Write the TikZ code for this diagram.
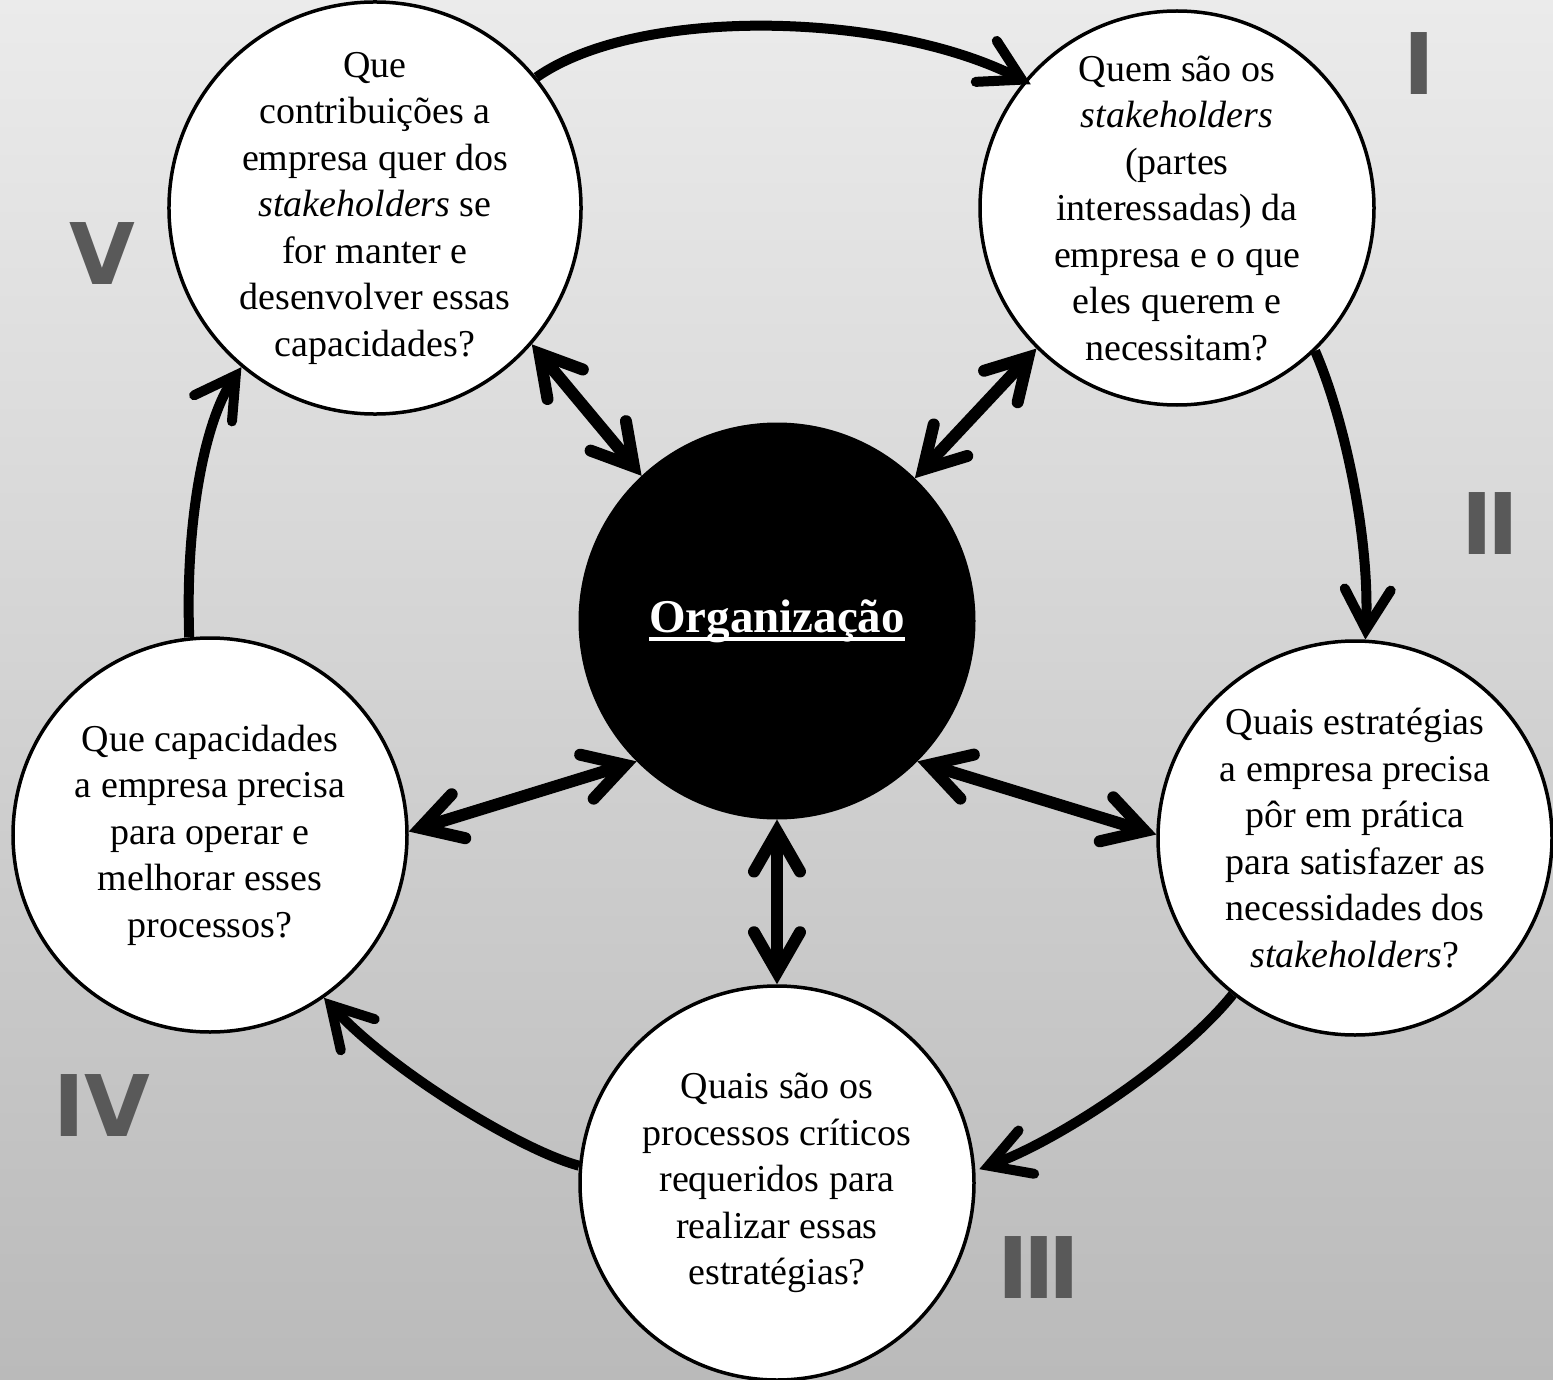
\documentclass[tikz,border=0pt]{standalone}
\usepackage{fontspec}
\setmainfont{Liberation Serif}
\newfontfamily\numfont{DejaVu Sans}
\usetikzlibrary{arrows.meta}
\definecolor{bgtop}{RGB}{235,235,235}
\definecolor{bgbot}{RGB}{186,186,186}
\definecolor{numgray}{RGB}{89,89,89}
\tikzset{
  qcircle/.style={circle, draw=black, line width=3.5pt, fill=white, minimum size=394pt, inner sep=0pt,
    align=center, font=\fontsize{38}{46.5}\selectfont},
  orgcircle/.style={circle, draw=black, line width=3pt, fill=black, minimum size=394pt, inner sep=0pt,
    text=white, font=\fontsize{47}{56}\selectfont\bfseries},
  numeral/.style={inner sep=0pt, text=numgray, font=\fontsize{85}{90}\selectfont\numfont\bfseries},
  barb/.tip={Straight Barb[length=40pt, width=46pt, line cap=round, line join=miter]},
  cyclearrow/.style={line width=10pt, -barb},
  linkarrow/.style={line width=12pt, barb-barb}
}
\newcommand{\orgul}[1]{\setbox0\hbox{#1}\rlap{\rule[-8.5pt]{\wd0}{3.5pt}}\box0}
\begin{document}
\begin{tikzpicture}[x=1pt, y=-1pt]
\shade[top color=bgtop, bottom color=bgbot] (0,0) rectangle (1553,1380);
\useasboundingbox (0,0) rectangle (1553,1380);

\node[qcircle] (V) at (375,208) {Que\\contribuições a\\empresa quer dos\\\textit{stakeholders} se\\for manter e\\desenvolver essas\\capacidades?};
\node[qcircle] (I) at (1177,208) {Quem são os\\\textit{stakeholders}\\(partes\\interessadas) da\\empresa e o que\\eles querem e\\necessitam?};
\node[qcircle] (II) at (1355,838) {Quais estratégias\\a empresa precisa\\pôr em prática\\para satisfazer as\\necessidades dos\\\textit{stakeholders}?};
\node[qcircle] (III) at (777,1183) {Quais são os\\processos críticos\\requeridos para\\realizar essas\\estratégias?};
\node[qcircle] (IV) at (210,835) {Que capacidades\\a empresa precisa\\para operar e\\melhorar esses\\processos?};
\node[orgcircle] (org) at (777,621) {\orgul{Organização}};

\node[numeral] (nI) at (1419,64) {I};
\node[numeral] (nII) at (1490,524) {I\kern-6ptI};
\node[numeral] (nIII) at (1039,1268) {I\kern-6ptI\kern-6ptI};
\node[numeral] (nIV) at (102,1106) {IV};
\node[numeral] (nV) at (102,254) {V};

\draw[cyclearrow] (V.39) .. controls (640,5) and (890,12) .. ([shift={(6pt,-4pt)}]I.140);
\draw[cyclearrow] (I.-46) .. controls (1345,420) and (1370,540) .. (II.87);
\draw[cyclearrow] (II.-128) .. controls (1180,1060) and (1060,1140) .. ([shift={(4pt,0pt)}]III.4);
\draw[cyclearrow] (III.175) .. controls (520,1150) and (390,1070) .. (IV.-55);
\draw[cyclearrow] (IV.96) .. controls (185,520) and (205,420) .. (V.-130);

\draw[linkarrow] (org.133) -- (V.-41);
\draw[linkarrow] (org.46) -- (I.-135);
\draw[linkarrow] (org.-45) -- (II.179);
\draw[linkarrow] (org.-90) -- (III.90);
\draw[linkarrow] (org.-135) -- (IV.1);
\end{tikzpicture}
\end{document}
